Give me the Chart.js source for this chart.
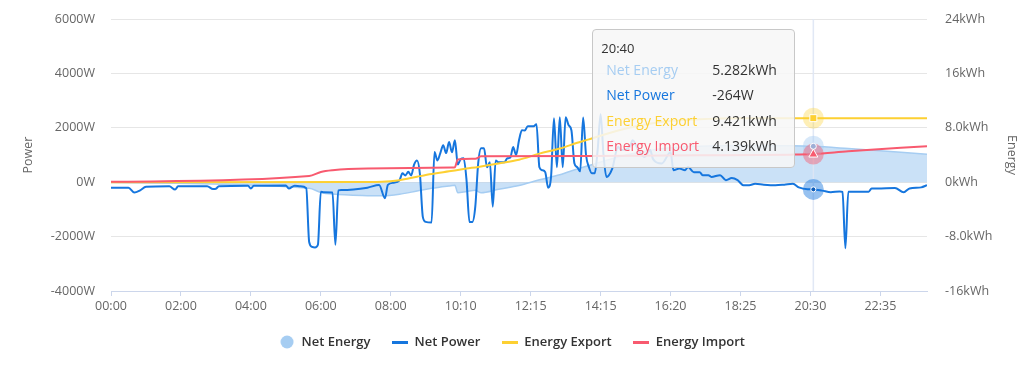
<!DOCTYPE html>
<html>
<head>
<meta charset="utf-8">
<script src="https://cdn.jsdelivr.net/npm/chart.js@4.4.0/dist/chart.umd.min.js"></script>
<style>
    body { margin: 0; background: #fff; }
    #wrap { position: relative; width: 1024px; height: 365px; }
    #tip {
        position: absolute; display: none; box-sizing: border-box;
        width: 203px; height: 139px; padding: 8px 0 0 8px;
        background: rgba(247, 247, 247, 0.86); border: 1px solid #c8c8c8; border-radius: 4px;
        font-family: 'Open Sans', sans-serif; color: #333; pointer-events: none;
    }
    #tip .t { font-size: 13px; line-height: 20px; height: 19px; }
    #tip .r { font-size: 14px; line-height: 25.3px; white-space: nowrap; padding-left: 5px; }
    #tip .r span { display: inline-block; width: 106px; }
</style>
</head>
<body>
<div id="wrap">
    <canvas id="energyChart" width="1024" height="365"></canvas>
    <div id="tip"></div>
</div>
<script>
// x values are sample positions (5 min samples, a few missing), ticks every 24 samples
const tickLabels = ['00:00', '02:00', '04:00', '06:00', '08:00', '10:10', '12:15', '14:15', '16:20', '18:25', '20:30', '22:35'];
const powerTicks = ['-4000W', '-2000W', '0W', '2000W', '4000W', '6000W'];
const energyTicks = ['-16kWh', '-8.0kWh', '0kWh', '8.0kWh', '16kWh', '24kWh'];
const lastSample = 280;
const hoverSample = 241;
const hoverTime = '20:40';

const seriesNames = ['Net Energy', 'Net Power', 'Energy Export', 'Energy Import'];
const seriesColors = ['#a6cdf2', '#1676de', '#fdd032', '#f85a6f'];

// kWh
const netEnergy = [[0, -0.05], [68, -0.9], [72, -1.5], [76, -1.75], [88, -1.98], [93, -2.0], [99, -1.77],
    [105, -1.3], [110, -0.9], [116, -0.55], [118, -0.45], [119, -1.55], [122, -1.37], [125, -1.2], [127, -1.55],
    [133, -1.05], [140, -0.5], [147, 0.35], [154, 1.1], [160, 1.95], [164, 2.45], [174, 3.72], [188, 4.88],
    [202, 5.3], [216, 5.4], [233, 5.37], [241, 5.282], [253, 4.95], [280, 4.12]];

// W
const netPower = [[0, -200], [6, -200], [8, -380], [10, -300], [12, -170], [20, -150], [22, -270], [23, -150],
    [33, -150], [35, -250], [36, -240], [37, -150], [47, -130], [48, -230], [49, -130], [60, -120], [61, -230],
    [63, -130], [65, -150], [67, -220], [68, -2200], [69, -2380], [70, -2400], [71, -2300], [72, -350], [73, -370],
    [76, -380], [77, -2300], [78, -300], [79, -290], [88, -200], [92, -100], [94, -590], [95, -100], [97, -20],
    [99, 70], [100, 330], [101, 250], [102, 380], [103, 250], [104, 650], [105, 800], [106, 300], [107, -1275],
    [108, -1460], [110, -1480], [111, 1110], [112, 800], [113, 1070], [114, 1360], [115, 1070], [116, 1480],
    [117, 1100], [118, 1540], [119, 650], [120, 850], [121, 880], [122, 70], [123, -1460], [124, -1460],
    [125, -900], [126, 700], [127, 1250], [128, 1250], [129, 550], [130, 730], [131, -900], [132, 800], [133, 730],
    [135, 730], [136, 880], [137, 900], [138, 1290], [139, 1000], [140, 1540], [141, 1910], [142, 1900],
    [143, 2060], [145, 2060], [146, 2130], [147, 550], [148, 440], [149, 370], [150, -200], [151, 200],
    [152, 2350], [153, 550], [154, 2390], [155, 550], [156, 2390], [157, 2100], [158, 1900], [159, 700],
    [160, 550], [161, 400], [162, 2380], [163, 1000], [164, 550], [165, 330], [166, 330], [167, 1200],
    [168, 2500], [169, 1000], [170, 195], [172, 500], [174, 1300], [175, 1180], [178, 1300], [179, 1540],
    [181, 1180], [183, 930], [185, 1180], [186, 850], [189, 690], [192, 1100], [193, 440], [195, 500],
    [197, 440], [198, 560], [200, 370], [202, 370], [203, 260], [205, 260], [206, 195], [209, 260], [211, 74],
    [213, 150], [215, 74], [217, -110], [219, -110], [221, -60], [224, -90], [228, -110], [231, -90], [234, -60],
    [236, -190], [239, -260], [241, -264], [244, -310], [247, -370], [250, -340], [251, -360], [252, -2430],
    [253, -350], [254, -350], [260, -350], [261, -230], [263, -230], [269, -210], [272, -370], [274, -230],
    [278, -190], [280, -110]];

// kWh
const energyExport = [[0, 0], [88, 0.02], [93, 0.05], [99, 0.3], [105, 0.8], [110, 1.2], [116, 1.6], [122, 2.0],
    [126, 2.25], [133, 2.75], [140, 3.3], [147, 4.2], [154, 4.95], [160, 5.8], [164, 6.3], [174, 7.6],
    [188, 8.8], [202, 9.25], [216, 9.4], [241, 9.421], [280, 9.421]];

const energyImport = [[0, 0.05], [68, 0.9], [72, 1.5], [76, 1.75], [88, 2.0], [117, 2.15], [118, 2.2],
    [119, 3.35], [125, 3.45], [127, 3.8], [164, 3.85], [202, 3.95], [233, 4.05], [241, 4.139], [253, 4.55],
    [280, 5.3]];

document.addEventListener('DOMContentLoaded', function() {
    createEnergyChart();
});

function legendSymbol(kind, color) {
    const c = document.createElement('canvas');
    const g = c.getContext('2d');
    if (kind === 'circle') {
        c.width = 14; c.height = 14;
        g.fillStyle = color;
        g.beginPath(); g.arc(7, 7, 6.5, 0, Math.PI * 2); g.fill();
    } else {
        c.width = 16; c.height = 3;
        g.fillStyle = color;
        g.fillRect(0, 0, 16, 3);
    }
    return c;
}

function hoverPoint(chart, di) {
    const i = chart.data.datasets[di].data.findIndex(p => p[0] === hoverSample);
    return chart.getDatasetMeta(di).data[i];
}

function withAlpha(hex, a) {
    const n = parseInt(hex.slice(1), 16);
    return 'rgba(' + (n >> 16) + ',' + ((n >> 8) & 255) + ',' + (n & 255) + ',' + a + ')';
}

const hoverMarks = {
    id: 'hoverMarks',
    beforeDatasetsDraw(chart) {
        const p = hoverPoint(chart, 1);
        const ctx = chart.ctx, area = chart.chartArea;
        ctx.save();
        ctx.strokeStyle = 'rgba(222, 230, 244, 0.9)';
        ctx.lineWidth = 1.5;
        ctx.beginPath();
        ctx.moveTo(p.x, area.top);
        ctx.lineTo(p.x, area.bottom);
        ctx.stroke();
        ctx.restore();
    },
    afterDatasetsDraw(chart) {
        const ctx = chart.ctx;
        ctx.save();
        [0, 1, 2, 3].forEach(di => {
            const p = hoverPoint(chart, di);
            ctx.fillStyle = withAlpha(seriesColors[di], di === 2 ? 0.35 : 0.45);
            ctx.beginPath(); ctx.arc(p.x, p.y, 10.5, 0, Math.PI * 2); ctx.fill();
        });
        [0, 1, 2, 3].forEach(di => {
            const p = hoverPoint(chart, di);
            ctx.fillStyle = seriesColors[di];
            ctx.strokeStyle = '#fff';
            ctx.lineWidth = 1;
            ctx.beginPath();
            if (di === 2) {
                ctx.rect(p.x - 3.5, p.y - 3.5, 7, 7);
            } else if (di === 3) {
                ctx.moveTo(p.x, p.y - 5); ctx.lineTo(p.x + 4.5, p.y + 3); ctx.lineTo(p.x - 4.5, p.y + 3); ctx.closePath();
            } else if (di === 0) {
                ctx.fillStyle = '#9eaed6';
                ctx.arc(p.x, p.y, 3, 0, Math.PI * 2);
            } else {
                ctx.fillStyle = '#0e5cb8';
                ctx.arc(p.x, p.y, 2.5, 0, Math.PI * 2);
            }
            ctx.fill(); ctx.stroke();
        });
        ctx.restore();
    }
};

function externalTip(context) {
    const tip = document.getElementById('tip');
    const t = context.tooltip;
    if (!t.dataPoints || !t.dataPoints.length) { tip.style.display = 'none'; return; }
    let html = '<div class="t">' + hoverTime + '</div>';
    [0, 1, 2, 3].forEach(di => {
        const dp = t.dataPoints.find(d => d.datasetIndex === di);
        if (!dp) return;
        const v = dp.parsed.y;
        const txt = di === 1 ? v + 'W' : v.toFixed(3) + 'kWh';
        html += '<div class="r"><span style="color:' + seriesColors[di] + '">' + seriesNames[di] + '</span>' + txt + '</div>';
    });
    tip.innerHTML = html;
    tip.style.display = 'block';
    tip.style.left = (t.caretX - 221) + 'px';
    tip.style.top = (context.chart.chartArea.top + 10) + 'px';
}

function createEnergyChart() {
    const ctx = document.getElementById('energyChart');
    if (!ctx) return;

    Chart.defaults.font.family = "'Open Sans', sans-serif";
    const tickFont = { size: 12.5 };
    const symbols = [
        legendSymbol('circle', seriesColors[0]),
        legendSymbol('line', seriesColors[1]),
        legendSymbol('line', seriesColors[2]),
        legendSymbol('line', seriesColors[3])
    ];

    const chart = new Chart(ctx, {
        type: 'line',
        data: {
            datasets: [{
                label: seriesNames[0],
                data: netEnergy,
                yAxisID: 'y1',
                borderColor: seriesColors[0],
                backgroundColor: 'rgba(166, 205, 242, 0.6)',
                borderWidth: 1.5,
                fill: 'origin',
                order: 3
            }, {
                label: seriesNames[1],
                data: netPower,
                yAxisID: 'y',
                borderColor: seriesColors[1],
                borderWidth: 2,
                order: 2
            }, {
                label: seriesNames[2],
                data: energyExport,
                yAxisID: 'y1',
                borderColor: seriesColors[2],
                borderWidth: 2,
                order: 1
            }, {
                label: seriesNames[3],
                data: energyImport,
                yAxisID: 'y1',
                borderColor: seriesColors[3],
                borderWidth: 2,
                order: 0
            }]
        },
        options: {
            responsive: false,
            animation: false,
            events: [],
            layout: { padding: { top: 19, bottom: 6.5, left: 0, right: 0 } },
            elements: {
                point: { radius: 0, hoverRadius: 0 },
                line: { cubicInterpolationMode: 'monotone' }
            },
            plugins: {
                filler: { drawTime: 'beforeDatasetsDraw' },
                legend: {
                    position: 'bottom',
                    labels: {
                        usePointStyle: true,
                        pointStyleWidth: 16,
                        padding: 21.5,
                        color: '#333',
                        font: { size: 13, weight: '600' },
                        generateLabels: function(chart) {
                            return chart.data.datasets.map((ds, i) => ({
                                text: ds.label,
                                pointStyle: symbols[i],
                                datasetIndex: i,
                                hidden: !chart.isDatasetVisible(i),
                                fontColor: '#333',
                                lineWidth: 0,
                                strokeStyle: 'transparent',
                                fillStyle: 'transparent'
                            }));
                        }
                    }
                },
                tooltip: {
                    enabled: false,
                    external: externalTip
                }
            },
            scales: {
                x: {
                    type: 'linear',
                    min: 0,
                    max: lastSample,
                    afterFit: function(scale) { scale.height = 23; },
                    grid: {
                        drawOnChartArea: false,
                        drawTicks: true,
                        tickLength: 5,
                        color: '#ccd6eb'
                    },
                    border: { display: true, color: '#ccd6eb' },
                    ticks: {
                        stepSize: 24,
                        includeBounds: false,
                        autoSkip: false,
                        maxRotation: 0,
                        padding: 3,
                        color: '#666',
                        font: tickFont,
                        callback: function(value) {
                            return tickLabels[value / 24];
                        }
                    }
                },
                y: {
                    position: 'left',
                    min: -4000,
                    max: 6000,
                    afterFit: function(scale) { scale.width = 111; },
                    grid: { color: '#e6e6e6', drawTicks: true, tickLength: 13, tickColor: 'rgba(0,0,0,0)' },
                    border: { display: false },
                    title: {
                        display: true,
                        text: 'Power',
                        color: '#666',
                        font: tickFont,
                        padding: { top: 20.5, bottom: 0 }
                    },
                    ticks: {
                        stepSize: 2000,
                        padding: 3,
                        color: '#666',
                        font: tickFont,
                        callback: function(value, i) {
                            return powerTicks[i];
                        }
                    }
                },
                y1: {
                    position: 'right',
                    min: -16,
                    max: 24,
                    afterFit: function(scale) { scale.width = 97; },
                    grid: { drawOnChartArea: false, drawTicks: true, tickLength: 15, tickColor: 'rgba(0,0,0,0)' },
                    border: { display: false },
                    title: {
                        display: true,
                        text: 'Energy',
                        color: '#666',
                        font: tickFont,
                        padding: { top: 4.5, bottom: 0 }
                    },
                    ticks: {
                        stepSize: 8,
                        padding: 3,
                        color: '#666',
                        font: tickFont,
                        callback: function(value, i) {
                            return energyTicks[i];
                        }
                    }
                }
            }
        },
        plugins: [hoverMarks]
    });

    const active = chart.data.datasets.map((ds, di) => ({
        datasetIndex: di,
        index: ds.data.findIndex(p => p[0] === hoverSample)
    }));
    chart.tooltip.setActiveElements(active, { x: 0, y: 0 });
}
</script>
</body>
</html>
